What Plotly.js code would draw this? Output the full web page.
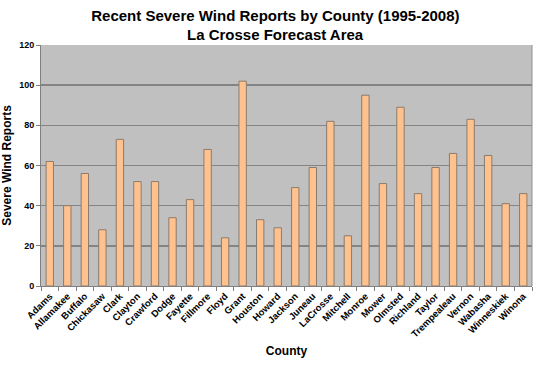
<!DOCTYPE html>
<html><head><meta charset="utf-8">
<script src="https://cdn.plot.ly/plotly-3.0.1.min.js"></script>
<style>html,body{margin:0;padding:0;background:#fff}#c{width:540px;height:368px}</style>
</head><body><div id="c"></div>
<script>
const counties = ["Adams","Allamakee","Buffalo","Chickasaw","Clark","Clayton","Crawford","Dodge","Fayette","Fillmore","Floyd","Grant","Houston","Howard","Jackson","Juneau","LaCrosse","Mitchell","Monroe","Mower","Olmsted","Richland","Taylor","Trempealeau","Vernon","Wabasha","Winneskiek","Winona"];
const reports = [62,40,56,28,73,52,52,34,43,68,24,102,33,29,49,59,82,25,95,51,89,46,59,66,83,65,41,46];
const yTicks = [0,20,40,60,80,100,120];
const titleLine1 = 'Recent Severe Wind Reports by County (1995-2008)';
const titleLine2 = 'La Crosse Forecast Area';

const F = "Liberation Sans, Arial, sans-serif";
const TF = {family: F, size: 15, color: '#000', weight: 'bold'};
Plotly.newPlot('c', [{
  type: 'bar', x: counties, y: reports,
  marker: {color: '#FFC28E', line: {color: '#8C7B6C', width: 1}},
  hoverinfo: 'x+y'
}], {
  width: 540, height: 368,
  margin: {l: 41, r: 8, t: 45, b: 82, pad: 0},
  paper_bgcolor: '#ffffff', plot_bgcolor: '#C0C0C0',
  bargap: 0.58,
  showlegend: false,
  title: {text: titleLine1, font: TF, x: 0.51, xanchor: 'center',
          yref: 'container', y: 0.958, yanchor: 'middle'},
  annotations: [{text: titleLine2, font: TF, showarrow: false, xref: 'paper', yref: 'paper',
                 x: 0.478, y: 1.045, xanchor: 'center', yanchor: 'middle'}],
  xaxis: {
    title: {text: 'County', font: {family: F, size: 12, color: '#000', weight: 'bold'}, standoff: 8},
    tickangle: -45, tickfont: {family: F, size: 9.5, color: '#000', weight: 'bold'},
    showline: true, linecolor: '#808080', linewidth: 1,
    ticks: 'outside', ticklen: 4, tickcolor: '#808080', tickson: 'boundaries',
    showgrid: false, mirror: false, fixedrange: true
  },
  yaxis: {
    title: {text: 'Severe Wind Reports', font: {family: F, size: 12, color: '#000', weight: 'bold'}, standoff: 12},
    range: [0, 120], tickvals: yTicks, ticktext: yTicks.map(String),
    tickfont: {family: F, size: 9, color: '#000', weight: 'bold'},
    showline: true, linecolor: '#808080', linewidth: 1,
    ticks: 'outside', ticklen: 4, tickcolor: '#808080',
    showgrid: true, gridcolor: '#848484', gridwidth: 1.5,
    zeroline: false, fixedrange: true
  },
  shapes: [{type: 'line', xref: 'paper', yref: 'paper', x0: 1, x1: 1, y0: 0, y1: 1, line: {color: '#909090', width: 1}}]
}, {displayModeBar: false, staticPlot: true});
</script></body></html>
